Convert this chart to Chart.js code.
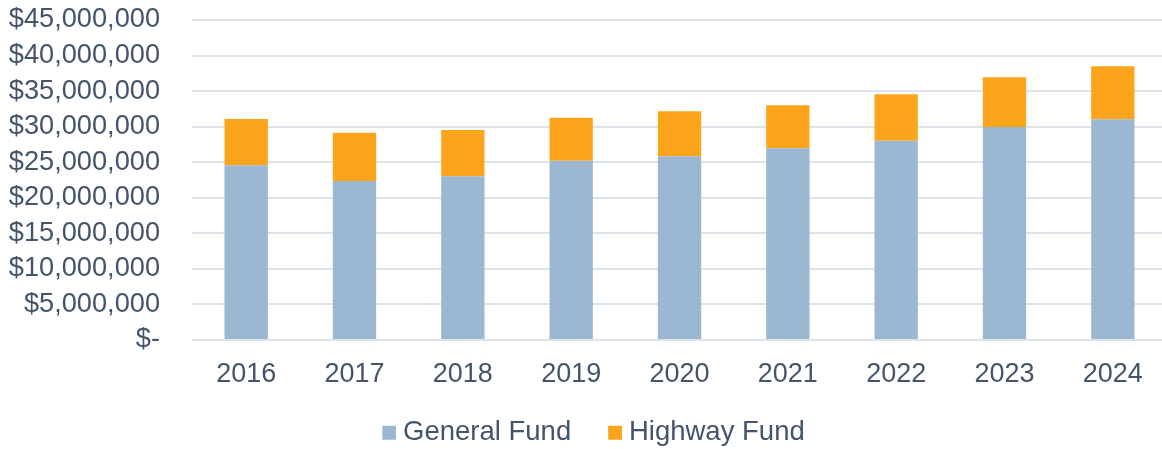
<!DOCTYPE html>
<html>
<head>
<meta charset="utf-8">
<script src="https://cdn.jsdelivr.net/npm/chart.js@4.4.1/dist/chart.umd.min.js"></script>
<style>
html,body{margin:0;padding:0;overflow:hidden;background:#fff;width:1162px;height:449px;}
#wrap{width:1188px;height:449px;}
</style>
</head>
<body>
<div id="wrap"><canvas id="c" width="1188" height="449"></canvas></div>
<script>
const years = ['2016','2017','2018','2019','2020','2021','2022','2023','2024'];
const generalFund = [24560000, 22360000, 23020000, 25220000, 25830000, 26960000, 28030000, 29950000, 31030000];
const highwayFund = [6520000, 6790000, 6510000, 6050000, 6330000, 6040000, 6520000, 6990000, 7450000];
const seriesNames = ['General Fund', 'Highway Fund'];
const seriesColors = ['#9BB7D2', '#FDA41D'];
const yMax = 45000000;
const yStep = 5000000;

const textColor = '#44546A';
const gridColor = '#DEE3E9';
const fontFamily = '"Liberation Sans", Arial, sans-serif';

Chart.defaults.font.family = fontFamily;
Chart.defaults.color = textColor;

// legend square drawn on the right part of a small canvas, to tighten the box-to-text gap
function legendSquare(color) {
  const cv = document.createElement('canvas');
  cv.width = 28; cv.height = 18;
  const cx = cv.getContext('2d');
  cx.fillStyle = color;
  cx.fillRect(14, 2, 14, 14);
  return cv;
}
const squares = seriesColors.map(legendSquare);

const legendShift = {
  id: 'legendShift',
  afterLayout(chart) {
    const l = chart.legend;
    if (!l) return;
    l.left += 13;
    l.top -= 1; l.bottom -= 1;
  }
};

new Chart(document.getElementById('c'), {
  type: 'bar',
  data: {
    labels: years,
    datasets: [
      { label: seriesNames[0], data: generalFund, backgroundColor: seriesColors[0], borderWidth: 0,
        barPercentage: 0.4, categoryPercentage: 1.0 },
      { label: seriesNames[1], data: highwayFund, backgroundColor: seriesColors[1], borderWidth: 0,
        barPercentage: 0.4, categoryPercentage: 1.0 }
    ]
  },
  plugins: [legendShift],
  options: {
    responsive: false,
    animation: false,
    devicePixelRatio: 1,
    layout: { padding: { left: 0, right: 21, top: 20, bottom: -8.5 } },
    plugins: {
      tooltip: { enabled: false },
      legend: {
        position: 'bottom',
        labels: {
          boxWidth: 14, boxHeight: 14, padding: 30,
          usePointStyle: true, pointStyleWidth: 14,
          font: { size: 27.5, family: fontFamily }, color: textColor,
          generateLabels(chart) {
            const items = Chart.defaults.plugins.legend.labels.generateLabels(chart);
            items.forEach((it, i) => { it.pointStyle = squares[i]; });
            return items;
          }
        }
      }
    },
    scales: {
      x: {
        stacked: true,
        afterFit: function(scale){ scale.height = 50; },
        grid: { display: false, drawTicks: false },
        border: { display: false },
        ticks: { autoSkip: false, maxRotation: 0, font: { size: 27, family: fontFamily }, color: textColor, padding: 18 }
      },
      y: {
        stacked: true,
        min: 0, max: yMax,
        afterFit: function(scale){ scale.width = 192; },
        grid: { color: gridColor, lineWidth: 2, drawTicks: true, tickLength: 32, tickColor: 'rgba(0,0,0,0)' },
        border: { display: false },
        ticks: {
          autoSkip: false,
          stepSize: yStep,
          font: { size: 27.2, family: fontFamily }, color: textColor, padding: 0,
          callback: function(v){ return v === 0 ? '$-' : '$' + Number(v).toLocaleString('en-US'); }
        }
      }
    }
  }
});
</script>
</body>
</html>
